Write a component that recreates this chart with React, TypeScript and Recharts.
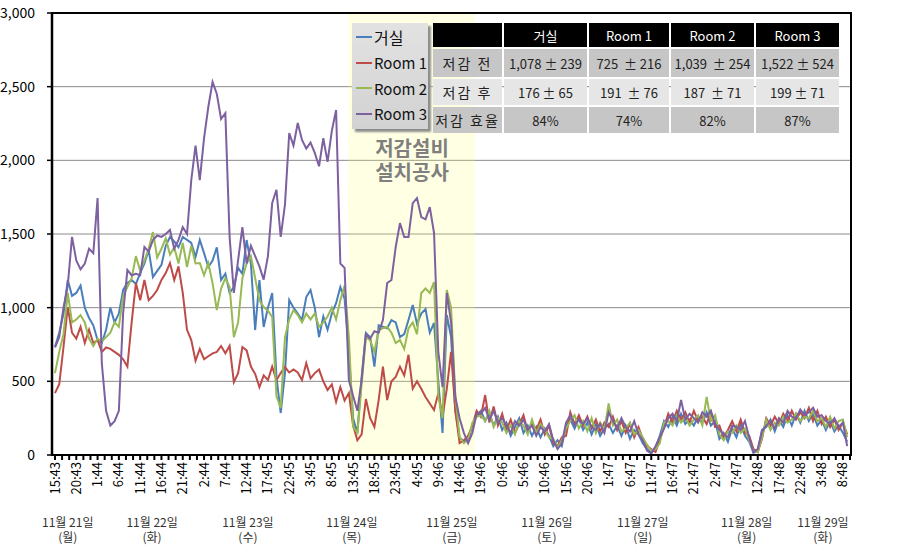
import React from "react"
import { LineChart, Line, XAxis, YAxis, CartesianGrid, ReferenceArea } from "recharts"

// hourly samples, index 0 = 11/21 15:43
const livingRoom = [
  733, 830, 960, 1188, 1080, 1100, 1150, 1000, 930, 880,
  780, 760, 850, 1000, 900, 960, 1120, 1167, 1188, 1160,
  1235, 1300, 1391, 1208, 1250, 1290, 1420, 1480, 1450, 1410,
  1480, 1460, 1440, 1344, 1460, 1370, 1276, 1320, 1410, 1188,
  1230, 1100, 1140, 1270, 1230, 1459, 1300, 848, 1188, 869,
  1000, 1100, 530, 285, 556, 1052, 1000, 960, 916, 1072,
  1120, 1000, 801, 940, 850, 960, 1030, 1140, 1060, 700,
  250, 150, 530, 828, 800, 600, 880, 870, 860, 916,
  900, 800, 820, 916, 1018, 890, 960, 990, 830, 896,
  500, 150, 950, 800, 300, 120, 90, 100, 200, 270,
  300, 230, 280, 200, 260, 170, 220, 130, 190, 250,
  150, 200, 130, 190, 120, 180, 130, 60, 100, 60,
  200, 240, 180, 250, 170, 220, 140, 210, 130, 180,
  210, 150, 200, 130, 200, 110, 170, 140, 80, 40,
  15, 50, 130, 230, 190, 260, 200, 280, 210, 240,
  200, 260, 220, 290, 200, 230, 110, 150, 90, 180,
  120, 210, 130, 90, 15, 30, 170, 190, 240, 160,
  240, 190, 270, 200, 280, 220, 300, 230, 280, 200,
  240, 170, 230, 160, 200, 150, 90,
]

const room1 = [
  420, 480, 733, 1004, 830, 790, 870, 760, 850, 760,
  780, 700, 730, 720, 700, 680, 650, 600, 900, 1167,
  1050, 1188, 1050, 1080, 1120, 1188, 1235, 1303, 1188, 1280,
  1100, 850, 780, 640, 720, 650, 670, 690, 700, 740,
  690, 740, 495, 556, 733, 710, 600, 550, 460, 540,
  509, 600, 509, 556, 597, 560, 580, 560, 509, 624,
  520, 556, 580, 500, 441, 480, 360, 460, 370, 420,
  200, 100, 140, 380, 250, 190, 373, 600, 373, 500,
  530, 600, 540, 680, 450, 500, 450, 394, 350, 305,
  420, 260, 450, 700, 300, 81, 100, 130, 200, 300,
  260, 407, 220, 330, 200, 280, 170, 240, 150, 210,
  270, 160, 220, 170, 240, 140, 200, 80, 60, 120,
  130, 290, 210, 270, 200, 260, 180, 240, 160, 220,
  190, 260, 170, 230, 150, 210, 120, 190, 110, 60,
  40, 20, 100, 190, 280, 220, 300, 240, 290, 220,
  300, 230, 260, 210, 290, 190, 200, 120, 170, 230,
  160, 240, 150, 130, 40, 20, 110, 250, 200, 260,
  210, 280, 230, 300, 240, 290, 250, 320, 230, 300,
  210, 260, 190, 240, 170, 220, 140,
]

const room2 = [
  556, 700, 820, 1100, 900, 920, 950, 900, 790, 740,
  790, 770, 800, 830, 900, 870, 1080, 1140, 1200, 1350,
  1250, 1320, 1400, 1513, 1340, 1400, 1470, 1360, 1410, 1300,
  1440, 1276, 1420, 1300, 1303, 1220, 1303, 1167, 984, 1130,
  1200, 1140, 800, 900, 1200, 1300, 1350, 1200, 1050, 1004,
  980, 937, 400, 320, 800, 920, 984, 950, 900, 960,
  920, 960, 870, 900, 940, 1000, 920, 1050, 1150, 800,
  190, 150, 480, 800, 780, 700, 850, 860, 870, 830,
  760, 780, 720, 860, 900, 820, 1100, 1130, 1100, 1174,
  400, 250, 1120, 1000, 400, 120, 80, 100, 220, 260,
  270, 230, 300, 190, 250, 220, 150, 200, 140, 230,
  200, 140, 240, 150, 210, 170, 120, 110, 50, 100,
  180, 230, 270, 180, 230, 160, 250, 150, 220, 170,
  350, 200, 240, 160, 180, 220, 140, 170, 120, 70,
  30, 40, 80, 220, 230, 200, 270, 220, 260, 200,
  240, 270, 200, 394, 230, 270, 140, 100, 160, 150,
  200, 150, 180, 100, 30, 20, 120, 240, 170, 220,
  200, 260, 220, 240, 280, 230, 260, 250, 300, 230,
  250, 190, 260, 180, 230, 240, 120,
]

const room3 = [
  730, 800, 1000, 1150, 1480, 1320, 1260, 1300, 1400, 1370,
  1744, 620, 300, 200, 230, 300, 963, 1255, 1220, 1230,
  1220, 1412, 1380, 1459, 1490, 1480, 1500, 1527, 1400, 1460,
  1547, 1500, 1866, 2100, 1866, 2150, 2362, 2532, 2450, 2280,
  2320, 1480, 1100, 1323, 1547, 1300, 1420, 1350, 1280, 1190,
  1350, 1710, 1800, 1480, 1700, 2185, 2100, 2253, 2138, 2080,
  2120, 2050, 1960, 2150, 1990, 2200, 2341, 1300, 1270, 509,
  400, 300, 509, 820, 790, 840, 830, 916, 1167, 1188,
  1412, 1574, 1480, 1480, 1710, 1744, 1615, 1600, 1683, 1507,
  700, 460, 1100, 900, 394, 250, 150, 81, 150, 280,
  280, 320, 240, 300, 220, 250, 200, 150, 230, 200,
  240, 170, 200, 130, 190, 160, 210, 100, 40, 80,
  220, 270, 200, 240, 210, 250, 190, 170, 210, 150,
  290, 230, 180, 250, 190, 160, 230, 140, 100, 30,
  10, 60, 120, 180, 250, 280, 230, 373, 240, 280,
  250, 220, 290, 260, 300, 210, 170, 140, 120, 200,
  190, 170, 230, 120, 20, 40, 160, 200, 230, 180,
  250, 220, 300, 260, 250, 310, 270, 290, 320, 260,
  270, 230, 210, 250, 190, 220, 60,
]

const timeLabels = [
  "15:43", "20:43", "1:44", "6:44", "11:44", "16:44", "21:44", "2:44", "7:44", "12:44",
  "17:45", "22:45", "3:45", "8:45", "13:45", "18:45", "23:45", "4:45", "9:46", "14:46",
  "19:46", "0:46", "5:46", "10:46", "15:46", "20:46", "1:47", "6:47", "11:47", "16:47",
  "21:47", "2:47", "7:47", "12:48", "17:48", "22:48", "3:48", "8:48",
]

const dayLabels = ["11월 21일", "11월 22일", "11월 23일", "11월 24일", "11월 25일", "11월 26일", "11월 27일", "11월 28일", "11월 29일"]
const weekdays = ["(월)", "(화)", "(수)", "(목)", "(금)", "(토)", "(일)", "(월)", "(화)"]
const dayPos = [3, 22.8, 45.3, 69.7, 93.2, 115.5, 138, 162.4, 180.3]

const seriesNames = ["거실", "Room 1", "Room 2", "Room 3"]
const seriesKeys = ["living", "room1", "room2", "room3"]
const seriesColors = ["#4A7EBB", "#BE4B48", "#98B954", "#7D60A0"]

const yTicks = [0, 500, 1000, 1500, 2000, 2500, 3000]
const constructionSpan = [68.8, 98.6]

const tableHead = ["", "거실", "Room 1", "Room 2", "Room 3"]
const tableRows = [
  ["저감 전", "1,078 ± 239", "725  ± 216", "1,039  ± 254", "1,522 ± 524"],
  ["저감 후", "176 ± 65", "191  ± 76", "187  ± 71", "199 ± 71"],
  ["저감 효율", "84%", "74%", "82%", "87%"],
]

const data = livingRoom.map((v, i) => ({
  i,
  living: v,
  room1: room1[i],
  room2: room2[i],
  room3: room3[i],
}))

const xDomain = [-0.7, 186.9]
const minorTicks = Array.from({ length: 113 }, (_, k) => (k * 5) / 3)

const FONT = "'Noto Sans CJK KR', 'Noto Sans', sans-serif"

function TimeTick({ x, y, payload }: any) {
  const k = Math.round((payload.value * 3) / 5)
  if (k % 3 !== 0) return null
  const label = timeLabels[k / 3]
  if (!label) return null
  return (
    <text
      x={x}
      y={y}
      transform={`rotate(-90 ${x} ${y})`}
      textAnchor="end"
      dy="0.35em"
      fontSize={13}
      fill="#000"
    >
      {label}
    </text>
  )
}

function DayTick({ x, y, payload }: any) {
  const idx = dayPos.indexOf(payload.value)
  return (
    <g>
      <text x={x} y={y + 11} textAnchor="middle" dominantBaseline="central" fontSize={12} fill="#333">
        {dayLabels[idx]}
      </text>
      <text x={x} y={y + 26} textAnchor="middle" dominantBaseline="central" fontSize={12} fill="#333">
        {weekdays[idx]}
      </text>
    </g>
  )
}

const colW = [69, 83, 80, 83, 83]
const rowH = [24, 28, 26, 26]
const rowBg = ["#c6c6c6", "#e6e6e6", "#c6c6c6"]

export default function App() {
  return (
    <div style={{ position: "absolute", left: 0, top: 0, width: 912, height: 545, background: "#fff", fontFamily: FONT }}>
      <LineChart width={912} height={545} data={data} margin={{ top: 13, right: 61, bottom: 0, left: 0 }}>
        <CartesianGrid vertical={false} stroke="#8a8a8a" strokeWidth={1} />
        <ReferenceArea x1={constructionSpan[0]} x2={constructionSpan[1]} fill="#ffff80" fillOpacity={0.22} stroke="none" />
        <XAxis
          type="number"
          dataKey="i"
          domain={xDomain}
          ticks={minorTicks}
          interval={0}
          allowDataOverflow
          height={55}
          tick={<TimeTick />}
          tickSize={5}
          tickMargin={2}
          axisLine={{ stroke: "#000", strokeWidth: 2 }}
          tickLine={{ stroke: "#000", strokeWidth: 2 }}
        />
        <XAxis
          xAxisId="day"
          type="number"
          dataKey="i"
          domain={xDomain}
          ticks={dayPos}
          interval={0}
          allowDataOverflow
          height={35}
          tick={<DayTick />}
          tickSize={0}
          tickMargin={0}
          axisLine={false}
          tickLine={false}
        />
        <YAxis
          width={52}
          domain={[0, 3000]}
          ticks={yTicks}
          interval={0}
          tickFormatter={(v: number) => v.toLocaleString("en-US")}
          tick={{ fill: "#000", fontSize: 14 }}
          tickSize={5}
          tickMargin={12}
          axisLine={{ stroke: "#000", strokeWidth: 2.5 }}
          tickLine={{ stroke: "#000", strokeWidth: 1.5 }}
        />
        {seriesKeys.map((k, idx) => (
          <Line
            key={k}
            type="linear"
            dataKey={k}
            name={seriesNames[idx]}
            stroke={seriesColors[idx]}
            strokeWidth={2}
            dot={false}
            isAnimationActive={false}
          />
        ))}
        <ReferenceArea
          x1={xDomain[0]}
          x2={xDomain[1]}
          y1={0}
          y2={3000}
          fill="none"
          stroke="#000"
          strokeWidth={2}
        />
      </LineChart>

      <div
        style={{
          position: "absolute",
          left: 372,
          top: 136,
          width: 80,
          textAlign: "center",
          color: "#7f7f7f",
          fontSize: 20,
          fontWeight: 700,
          lineHeight: "24px",
        }}
      >
        저감설비
        <br />
        설치공사
      </div>

      <div
        style={{
          position: "absolute",
          left: 352,
          top: 23,
          width: 76,
          height: 106,
          background: "linear-gradient(#e2e2e2, #d2d2d2)",
          boxShadow: "3px 3px 2px #8c8c8c",
        }}
      >
        {seriesNames.map((n, idx) => (
          <div key={n} style={{ position: "absolute", left: 4, top: 4 + idx * 25.5, height: 20, display: "flex", alignItems: "center" }}>
            <span style={{ display: "inline-block", width: 16, height: 2, background: seriesColors[idx], marginRight: 2 }} />
            <span style={{ fontSize: idx === 0 ? 16 : 15, color: "#111", whiteSpace: "nowrap" }}>{n}</span>
          </div>
        ))}
      </div>

      <div
        style={{
          position: "absolute",
          left: 433,
          top: 23,
          display: "grid",
          gridTemplateColumns: colW.map((w) => `${w}px`).join(" "),
          gridTemplateRows: rowH.map((h) => `${h}px`).join(" "),
          columnGap: 2,
          rowGap: 2,
          fontSize: 13,
        }}
      >
        {tableHead.map((h, c) => (
          <div key={"h" + c} style={{ background: "#000", color: "#fff", display: "flex", alignItems: "center", justifyContent: "center" }}>
            {h}
          </div>
        ))}
        {tableRows.map((row, r) =>
          row.map((cell, c) => (
            <div
              key={r + "-" + c}
              style={{
                background: rowBg[r],
                color: "#222",
                display: "flex",
                alignItems: "center",
                justifyContent: "center",
                whiteSpace: "pre",
                fontSize: c === 0 ? 14 : 13,
                letterSpacing: c === 0 ? 2 : 0,
              }}
            >
              {cell}
            </div>
          ))
        )}
      </div>
    </div>
  )
}
